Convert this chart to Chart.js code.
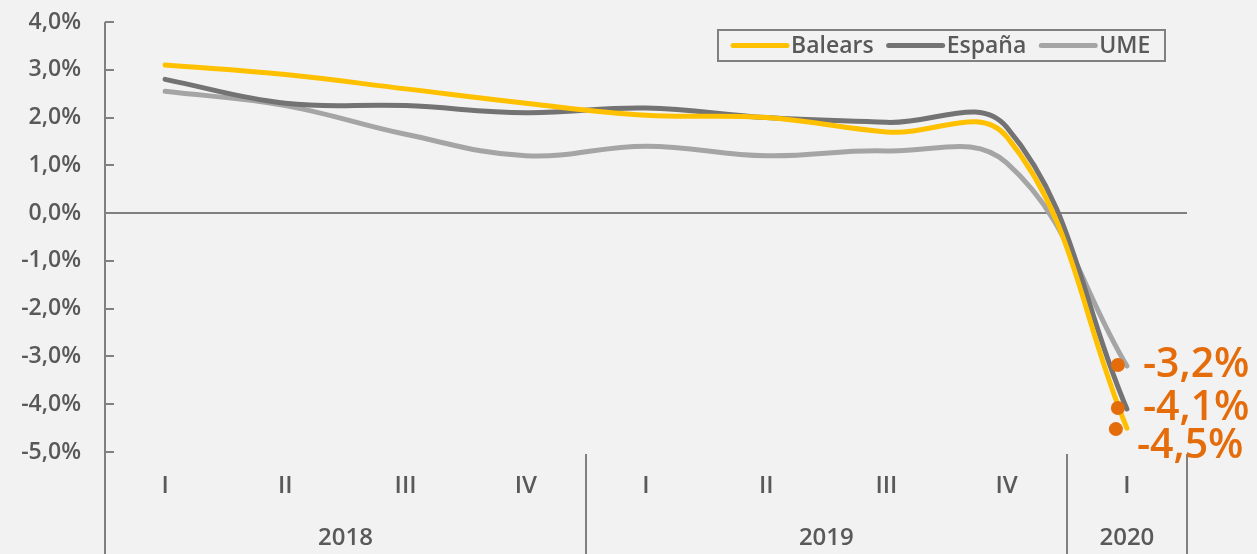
<!DOCTYPE html>
<html>
<head>
<meta charset="utf-8">
<script src="https://cdn.jsdelivr.net/npm/chart.js@4/dist/chart.umd.min.js"></script>
<style>
  html, body { margin: 0; padding: 0; background: #f2f2f2; }
  #wrap { width: 1257px; height: 554px; }
</style>
</head>
<body>
<div id="wrap"><canvas id="c" width="1257" height="554"></canvas></div>
<script>
// ---- data ----
const quarters = ['I', 'II', 'III', 'IV', 'I', 'II', 'III', 'IV', 'I'];
const years = ['2018', '2019', '2020'];
const quartersPerYear = [4, 4, 1];
const seriesNames = ['Balears', 'España', 'UME'];
const balears = [3.1, 2.9, 2.6, 2.3, 2.05, 2.0, 1.7, 1.6, -4.5];
const espana  = [2.8, 2.3, 2.25, 2.1, 2.2, 2.0, 1.9, 1.8, -4.1];
const ume     = [2.55, 2.25, 1.65, 1.2, 1.4, 1.2, 1.3, 1.05, -3.2];
const yMin = -5, yMax = 4, yStep = 1;

// ---- styles ----
const FONT = '"Open Sans", "Noto Sans", sans-serif';
const W = '600';
const TXT = '#595959';
const AXIS = '#808080';
const ORANGE = '#E46C0A';
const colors = ['#FFC000', '#737373', '#A5A5A5'];

const fmt = v => v.toFixed(1).replace('.', ',') + '%';

const extras = {
  id: 'extras',
  beforeDatasetsDraw(chart) {
    const ctx = chart.ctx;
    const x = chart.scales.x, y = chart.scales.y;
    const ca = chart.chartArea;
    ctx.save();
    ctx.strokeStyle = AXIS;
    ctx.lineWidth = 2;
    ctx.beginPath();
    ctx.moveTo(ca.left, ca.top);
    ctx.lineTo(ca.left, chart.height);
    ctx.stroke();
    y.ticks.forEach(t => {
      const py = Math.round(y.getPixelForValue(t.value));
      ctx.beginPath();
      ctx.moveTo(ca.left, py);
      ctx.lineTo(ca.left + 9, py);
      ctx.stroke();
    });
    const y0 = Math.round(y.getPixelForValue(0));
    ctx.beginPath();
    ctx.moveTo(ca.left, y0);
    ctx.lineTo(ca.right, y0);
    ctx.stroke();
    const half = (x.getPixelForValue(1) - x.getPixelForValue(0)) / 2;
    let idx = 0;
    ctx.fillStyle = TXT;
    ctx.font = W + ' 24px ' + FONT;
    ctx.textAlign = 'center';
    ctx.textBaseline = 'middle';
    years.forEach((yr, k) => {
      const start = x.getPixelForValue(idx) - half;
      const end = x.getPixelForValue(idx + quartersPerYear[k] - 1) + half;
      ctx.beginPath();
      ctx.moveTo(Math.round(end), ca.bottom + 2);
      ctx.lineTo(Math.round(end), chart.height);
      ctx.stroke();
      ctx.fillText(yr, (start + end) / 2, 538);
      idx += quartersPerYear[k];
    });
    ctx.restore();
  },
  afterDatasetsDraw(chart) {
    const ctx = chart.ctx;
    ctx.save();
    const bx = 718, by = 30, bw = 447, bh = 31;
    ctx.strokeStyle = AXIS;
    ctx.lineWidth = 2;
    ctx.strokeRect(bx, by, bw, bh);
    ctx.font = W + ' 23px ' + FONT;
    ctx.textBaseline = 'middle';
    ctx.textAlign = 'left';
    let lx = bx + 15;
    const ly = by + bh / 2;
    chart.data.datasets.forEach((ds, i) => {
      ctx.strokeStyle = ds.borderColor;
      ctx.lineWidth = 5;
      ctx.lineCap = 'round';
      ctx.beginPath();
      ctx.moveTo(lx, ly);
      ctx.lineTo(lx + 54, ly);
      ctx.stroke();
      ctx.fillStyle = TXT;
      ctx.fillText(ds.label, lx + 58, ly + 1);
      lx += 58 + ctx.measureText(ds.label).width + 15;
    });
    ctx.font = W + ' 41px ' + FONT;
    chart.data.datasets.forEach((ds, i) => {
      const meta = chart.getDatasetMeta(i);
      const last = meta.data[meta.data.length - 1];
      const val = ds.data[ds.data.length - 1];
      const dx = last.x - 9 - (i === 0 ? 2 : 0), dy = last.y + (i === 0 ? 1 : -1);
      ctx.fillStyle = ORANGE;
      ctx.beginPath();
      ctx.arc(dx, dy, 7, 0, Math.PI * 2);
      ctx.fill();
      const tx = dx + (i === 0 ? 21 : 25);
      const ty = dy + (i === 0 ? 17 : 0);
      ctx.textAlign = 'left';
      ctx.textBaseline = 'middle';
      ctx.fillText(fmt(val), tx, ty);
    });
    ctx.restore();
  }
};

const datasets = [balears, espana, ume].map((arr, i) => ({
  label: seriesNames[i],
  data: arr,
  borderColor: colors[i],
  backgroundColor: colors[i],
  borderWidth: 5,
  borderCapStyle: 'round',
  pointRadius: 0,
  tension: 0.4,
  fill: false,
  order: i
}));

new Chart(document.getElementById('c'), {
  type: 'line',
  data: { labels: quarters, datasets },
  options: {
    responsive: false,
    devicePixelRatio: 1,
    animation: false,
    layout: { padding: { top: 22, right: 70, bottom: 0, left: 0 } },
    plugins: { legend: { display: false }, tooltip: { enabled: false } },
    scales: {
      x: {
        offset: true,
        grid: { display: false, drawTicks: false, offset: true },
        border: { display: false },
        ticks: { color: TXT, font: { family: FONT, size: 24, weight: W }, padding: 20, maxRotation: 0, autoSkip: false },
        afterFit: s => { s.height = 102; s.paddingTop = 0; s.paddingBottom = 0; }
      },
      y: {
        min: yMin, max: yMax,
        grid: { display: false, drawTicks: false },
        border: { display: false },
        ticks: { stepSize: yStep, color: TXT, font: { family: FONT, size: 23, weight: W }, padding: 24,
                 callback: v => fmt(v) },
        afterFit: s => { s.width = 105; s.paddingTop = 0; s.paddingBottom = 0; }
      }
    }
  },
  plugins: [extras]
});
</script>
</body>
</html>
